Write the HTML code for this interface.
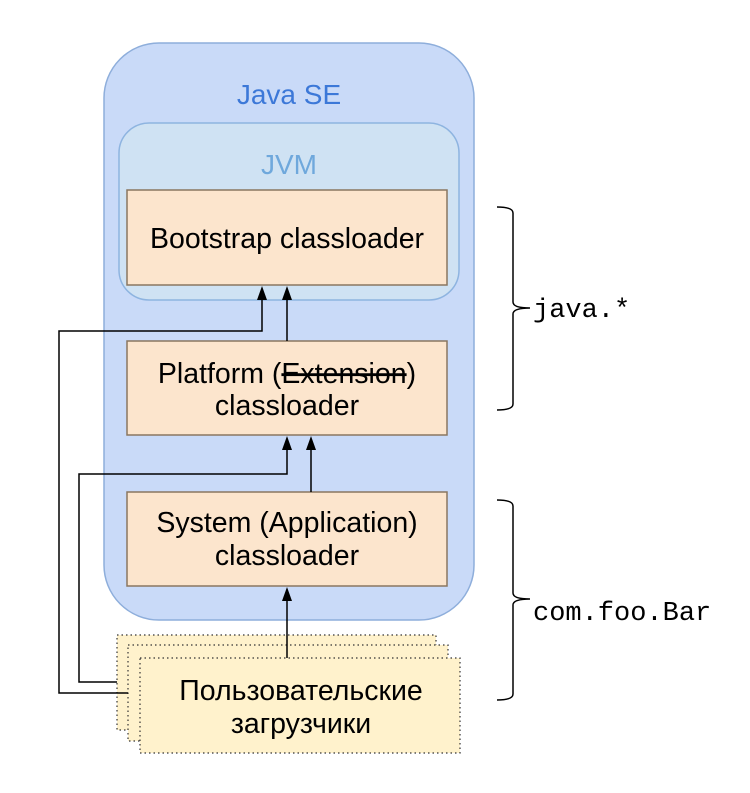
<!DOCTYPE html>
<html><head><meta charset="utf-8"><style>
body{margin:0;background:#fff}
svg text{font-family:"Liberation Sans","DejaVu Sans",sans-serif}
</style></head><body>
<svg width="750" height="788" viewBox="0 0 750 788" xmlns="http://www.w3.org/2000/svg">
<rect x="104" y="43" width="370" height="577" rx="55" fill="#c9daf8" stroke="#8eaedb" stroke-width="1.5"/>
<text x="289" y="104" font-size="28" fill="#3c78d8" text-anchor="middle">Java SE</text>
<rect x="119" y="123" width="340" height="177" rx="30" fill="#cfe2f3" stroke="#8eb4e0" stroke-width="1.5"/>
<text x="289" y="174" font-size="28" fill="#6fa8dc" text-anchor="middle">JVM</text>
<rect x="127" y="190" width="320" height="95" fill="#fce5cd" stroke="#8a7660" stroke-width="1.5"/>
<text x="287" y="248" font-size="28.5" text-anchor="middle">Bootstrap classloader</text>
<rect x="127" y="341" width="320" height="94" fill="#fce5cd" stroke="#8a7660" stroke-width="1.5"/>
<text x="287" y="383" font-size="28.5" text-anchor="middle">Platform (<tspan text-decoration="line-through">Extension</tspan>)</text>
<text x="287" y="415" font-size="28.5" text-anchor="middle">classloader</text>
<rect x="127" y="492" width="320" height="94" fill="#fce5cd" stroke="#8a7660" stroke-width="1.5"/>
<text x="287" y="532" font-size="28.5" text-anchor="middle">System (Application)</text>
<text x="287" y="565" font-size="28.5" text-anchor="middle">classloader</text>
<g fill="#fff2cc" stroke="#333" stroke-width="1.2" stroke-dasharray="1.5,3">
<rect x="117" y="635" width="319" height="95"/>
<rect x="128" y="645" width="320" height="96"/>
<rect x="140" y="658" width="320" height="95"/>
</g>
<text x="301" y="700" font-size="28.5" text-anchor="middle">Пользовательские</text>
<text x="301" y="733" font-size="28.5" text-anchor="middle">загрузчики</text>
<g stroke="#000" stroke-width="1.5" fill="none">
<path d="M128,693 H59 V331 H262 V298"/>
<path d="M287,341 V298"/>
<path d="M117,682 H79 V474 H287 V448"/>
<path d="M311,492 V448"/>
<path d="M287,658 V598"/>
<path d="M497,207 Q513,207 513,213 V302 Q513,308 530,308 Q513,308 513,314 V404 Q513,410 497,410"/>
<path d="M497,500 Q513,500 513,506 V593 Q513,599 530,599 Q513,599 513,605 V694 Q513,700 497,700"/>
</g>
<g fill="#000">
<path d="M257,300 L262,286 L267,300 Z"/>
<path d="M282,300 L287,286 L292,300 Z"/>
<path d="M282,450 L287,436 L292,450 Z"/>
<path d="M306,450 L311,436 L316,450 Z"/>
<path d="M282,601 L287,587 L292,601 Z"/>
</g>
<text x="533" y="317" font-size="27" style="font-family:'Liberation Mono',monospace">java.*</text>
<text x="533" y="620" font-size="27" style="font-family:'Liberation Mono',monospace">com.foo.Bar</text>
</svg>
</body></html>
